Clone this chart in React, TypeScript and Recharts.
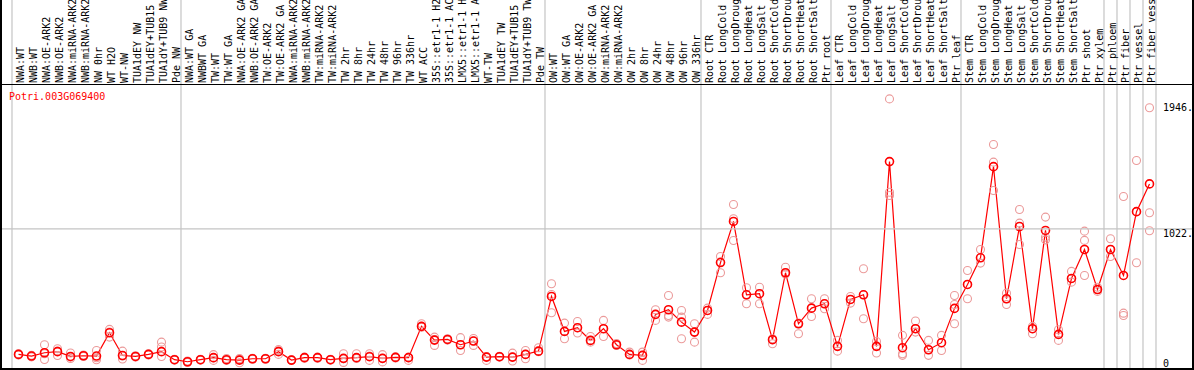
import { ComposedChart, Line, XAxis, YAxis, ReferenceLine } from 'recharts'

const LABELS = [
    'NWA:WT', 'NWB:WT', 'NWA:OE-ARK2', 'NWB:OE-ARK2', 'NWA:miRNA-ARK2', 'NWB:miRNA-ARK2', 'NW 0hr', 'WT H2O', 'WT-NW',
    'TUA1dEY NW', 'TUA1dEY+TUB15 NW', 'TUA1dY+TUB9 NW', 'Pde NW',
    'NWA:WT GA', 'NWBWT GA', 'TW:WT', 'TW:WT GA', 'NWA:OE-ARK2 GA', 'NWB:OE-ARK2 GA', 'TW:OE-ARK2', 'TW:OE-ARK2 GA',
    'NWA:miRNA-ARK2', 'NWB:miRNA-ARK2', 'TW:miRNA-ARK2', 'TW:miRNA-ARK2', 'TW 2hr', 'TW 8hr', 'TW 24hr', 'TW 48hr',
    'TW 96hr', 'TW 336hr', 'WT ACC', '35S::etr1-1 H2O', '35S::etr1-1 ACC', 'LMX5::etr1-1 H2O', 'LMX5::etr1-1 ACC',
    'WT-TW', 'TUA1dEY TW', 'TUA1dEY+TUB15 TW', 'TUA1dY+TUB9 TW', 'Pde TW',
    'OW:WT', 'OW:WT GA', 'OW:OE-ARK2', 'OW:OE-ARK2 GA', 'OW:miRNA-ARK2', 'OW:miRNA-ARK2', 'OW 2hr', 'OW 8hr',
    'OW 24hr', 'OW 48hr', 'OW 96hr', 'OW 336hr',
    'Root CTR', 'Root LongCold', 'Root LongDrought', 'Root LongHeat', 'Root LongSalt', 'Root ShortCold',
    'Root ShortDrought', 'Root ShortHeat', 'Root ShortSalt', 'Ptr root',
    'Leaf CTR', 'Leaf LongCold', 'Leaf LongDrought', 'Leaf LongHeat', 'Leaf LongSalt', 'Leaf ShortCold',
    'Leaf ShortDrought', 'Leaf ShortHeat', 'Leaf ShortSalt', 'Ptr leaf',
    'Stem CTR', 'Stem LongCold', 'Stem LongDrought', 'Stem LongHeat', 'Stem LongSalt', 'Stem ShortCold',
    'Stem ShortDrought', 'Stem ShortHeat', 'Stem ShortSalt', 'Ptr shoot', 'Ptr xylem',
    'Ptr phloem', 'Ptr fiber', 'Ptr vessel', 'Ptr fiber vessel',
]

// first category of each group (group separators)
const GROUP_STARTS = [0, 13, 41, 53, 63, 73, 84, 85, 86, 87]

const MEAN = [
    100, 88, 112, 120, 85, 90, 88, 259, 92, 85, 100, 120, 61,
    46, 61, 76, 61, 58, 68, 68, 120, 58, 76, 76, 61, 71, 76, 83, 71, 78, 76, 306, 205, 210, 171, 198, 80, 83, 80, 100, 124,
    526, 269, 296, 203, 289, 171, 100, 93, 394, 428, 337, 264,
    423, 775, 1077, 538, 546, 208, 700, 325, 440, 472,
    159, 504, 538, 159, 1517, 149, 289, 134, 186, 438,
    614, 810, 1480, 509, 1040, 289, 1011, 247, 658, 871, 577,
    871, 680, 1149, 1353,
]

const REP1 = [
    95, 82, 171, 142, 110, 85, 129, 284, 124, 80, 95, 190, 58,
    40, 58, 98, 70, 39, 64, 64, 100, 55, 72, 72, 58, 105, 105, 105, 98, 74, 56, 325, 227, 205, 223, 217, 56, 80, 109, 129, 149,
    619, 330, 342, 232, 350, 180, 117, 117, 428, 533, 423, 325,
    394, 820, 1202, 590, 594, 178, 741, 252, 509, 509,
    203, 526, 730, 195, 1978, 240, 345, 203, 240, 533,
    717, 871, 1643, 550, 1165, 306, 1109, 281, 710, 1006, 594,
    950, 1261, 1525, 1913,
]

const REP2 = [
    105, 94, 63, 92, 80, 95, 61, 227, 66, 90, 105, 154, 64,
    52, 64, 56, 56, 62, 72, 72, 135, 61, 80, 80, 64, 41, 70, 56, 45, 82, 80, 306, 166, 215, 129, 166, 80, 86, 51, 68, 120,
    406, 215, 257, 190, 232, 165, 95, 56, 350, 386, 374, 190,
    440, 700, 937, 472, 472, 215, 700, 330, 379, 435,
    124, 477, 362, 110, 1292, 93, 264, 93, 129, 325,
    509, 771, 1513, 467, 908, 252, 962, 203, 631, 938, 563,
    820, 403, 774, 1141,
]

const REP3 = [
    100, 88, 105, 125, 70, 90, 75, 265, 88, 85, 100, 85, 61,
    46, 61, 74, 58, 70, 68, 68, 125, 58, 76, 76, 61, 68, 76, 88, 71, 78, 76, 300, 210, 210, 171, 198, 85, 83, 80, 100, 124,
    540, 269, 296, 203, 289, 171, 100, 93, 394, 374, 215, 264,
    423, 780, 1097, 538, 546, 208, 690, 325, 440, 472,
    159, 504, 538, 159, 1268, 105, 289, 134, 186, 467,
    614, 810, 1305, 509, 1065, 289, 942, 247, 658, 680, 577,
    871, 386, 1149, 1009,
]

const Y_TICKS = [0, 1022, 1946]
const GRID_VALUE = 1022
const GENE = 'Potri.003G069400'

const MONO = '"DejaVu Sans Mono", monospace'
const GRID = '#c4c4c4'

const data = LABELS.map((label, i) => ({
    key: String(i),
    label,
    mean: MEAN[i],
    r1: REP1[i],
    r2: REP2[i],
    r3: REP3[i],
}))

const CategoryTick = (props: any) => {
    const { x, index } = props
    const tx = x + 1.5
    return (
        <text
            x={tx}
            y={83}
            transform={`rotate(-90, ${tx}, 83)`}
            textAnchor="start"
            dominantBaseline="central"
            fontSize={10}
            fontFamily={MONO}
            fill="#000"
        >
            {LABELS[index]}
        </text>
    )
}

// right-hand value labels; the grid value also gets its full-width rule
const ValueTick = (props: any) => {
    const { y, payload } = props
    const v = payload.value
    const label = v === 0 ? '0' : `${v}.`
    return (
        <g>
            {v === GRID_VALUE && <line x1={0} x2={1194} y1={y} y2={y} stroke={GRID} strokeWidth={1.2} />}
            <text
                x={1163}
                y={v === 0 ? y - 5 : y + 4.5}
                textAnchor="start"
                dominantBaseline="central"
                fontSize={10}
                fontFamily={MONO}
                fill="#000"
            >
                {label}
            </text>
        </g>
    )
}

const MeanDot = (props: any) => {
    const { cx, cy, index } = props
    if (cx == null || cy == null) return <g key={`m${index}`} />
    return <circle key={`m${index}`} cx={cx} cy={cy} r={4} fill="none" stroke="#ff0000" strokeWidth={1.6} />
}

const RepDot = (props: any) => {
    const { cx, cy, index } = props
    if (cx == null || cy == null) return <g key={`r${index}`} />
    return <circle key={`r${index}`} cx={cx} cy={cy} r={4} fill="none" stroke="#eb9a9a" strokeWidth={1.1} />
}

export default function App() {
    const last = String(LABELS.length - 1)
    return (
        <div style={{ position: 'absolute', left: 0, top: 0, width: 1194, height: 370, background: '#fff', fontFamily: MONO }}>
            <ComposedChart width={1194} height={370} data={data} margin={{ top: 0, right: 38, bottom: 2, left: 12 }}>
                <XAxis
                    dataKey="key"
                    scale="band"
                    orientation="top"
                    height={85}
                    interval={0}
                    tick={<CategoryTick />}
                    tickLine={false}
                    axisLine={false}
                />
                <YAxis
                    orientation="right"
                    mirror
                    width={40}
                    domain={[0, 2080]}
                    ticks={Y_TICKS}
                    tick={<ValueTick />}
                    tickLine={false}
                    axisLine={false}
                    interval={0}
                />
                {GROUP_STARTS.map(g => (
                    <ReferenceLine
                        key={g}
                        segment={[{ x: String(g), y: 0 }, { x: String(g), y: 2800 }]}
                        position="start"
                        ifOverflow="visible"
                        stroke={GRID}
                        strokeWidth={1.2}
                    />
                ))}
                <ReferenceLine
                    segment={[{ x: last, y: 0 }, { x: last, y: 2800 }]}
                    position="end"
                    ifOverflow="visible"
                    stroke={GRID}
                    strokeWidth={1.2}
                />
                <Line dataKey="r1" stroke="none" dot={<RepDot />} activeDot={false} isAnimationActive={false} />
                <Line dataKey="r2" stroke="none" dot={<RepDot />} activeDot={false} isAnimationActive={false} />
                <Line dataKey="r3" stroke="none" dot={<RepDot />} activeDot={false} isAnimationActive={false} />
                <Line
                    dataKey="mean"
                    type="linear"
                    stroke="#ff0000"
                    strokeWidth={1.2}
                    dot={<MeanDot />}
                    activeDot={false}
                    isAnimationActive={false}
                />
            </ComposedChart>
            <div style={{ position: 'absolute', left: 9, top: 91, fontSize: 10, lineHeight: '12px', color: '#ff0000', fontFamily: MONO }}>
                {GENE}
            </div>
            <div style={{ position: 'absolute', left: 0, top: 84, width: 1194, height: 0, borderTop: '1.5px solid #000', pointerEvents: 'none' }} />
            <div style={{ position: 'absolute', left: 0, top: 0, width: 1190, height: 368, borderLeft: '2px solid #000', borderRight: '2px solid #000', borderBottom: '2px solid #000', pointerEvents: 'none' }} />
        </div>
    )
}
